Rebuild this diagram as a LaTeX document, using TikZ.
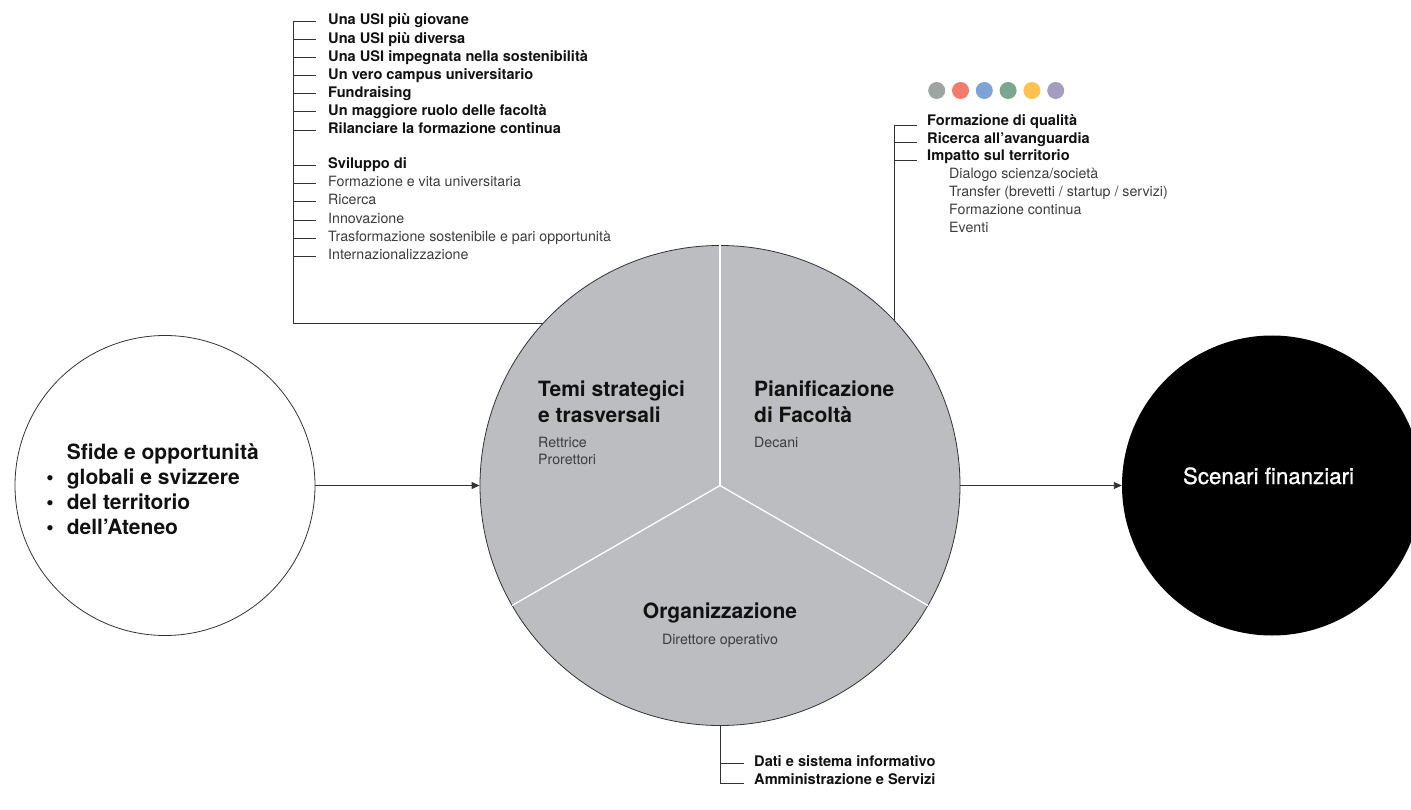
\documentclass[tikz,border=0pt]{standalone}
\usepackage{fontspec}
\setmainfont{TeX Gyre Heros}
\newfontfamily\mediumheros[FakeBold=0.9]{TeX Gyre Heros}
\usetikzlibrary{arrows.meta}
\definecolor{wheelgray}{HTML}{BCBDC0}
\definecolor{ink}{HTML}{111111}
\definecolor{soft}{HTML}{3C3C3C}
\definecolor{rulec}{HTML}{333333}
\definecolor{dotA}{HTML}{9DA5A2}
\definecolor{dotB}{HTML}{F37B6B}
\definecolor{dotC}{HTML}{7DA3D9}
\definecolor{dotD}{HTML}{7AA78E}
\definecolor{dotE}{HTML}{FFC24E}
\definecolor{dotF}{HTML}{A59CC2}
\begin{document}
\begin{tikzpicture}[x=1pt,y=-1pt,
  bigtext/.style={font=\fontsize{21}{25}\selectfont\bfseries, text=ink, inner sep=0pt, anchor=base west},
  itemtext/.style={font=\fontsize{14.6}{17}\selectfont\bfseries, text=ink, inner sep=0pt, anchor=base west},
  subtext/.style={font=\fontsize{14.2}{17}\selectfont, text=soft, inner sep=0pt, anchor=base west},
  link/.style={draw=rulec, line width=0.9pt},
  spoke/.style={draw=white, line width=1.3pt},
  arrowline/.style={link, -{Triangle[length=8pt,width=7pt]}},
  dotnode/.style={circle, minimum size=17pt, inner sep=0pt},
]
\useasboundingbox (0,0) rectangle (1411,810);
\clip (0,0) rectangle (1411,810);

% ---- main circles
\node[circle, draw=rulec, line width=0.8pt, minimum size=300pt, inner sep=0pt] (sfide) at (165,485.5) {};
\node[circle, draw=rulec, fill=wheelgray, line width=0.8pt, minimum size=480pt, inner sep=0pt] (wheel) at (720,485.5) {};
\node[circle, fill=black, minimum size=300pt, inner sep=0pt] (scen) at (1272,485.5) {};

% spokes
\draw[spoke] (wheel.center) -- (wheel.90);
\draw[spoke] (wheel.center) -- (wheel.210);
\draw[spoke] (wheel.center) -- (wheel.330);

% arrows
\draw[arrowline] (sfide.east) -- (wheel.west);
\draw[arrowline] (wheel.east) -- (scen.west);

% ---- left circle text
\node[bigtext] (sf0) at (66.7,459) {Sfide e opportunità};
\node[bigtext] (sf1) at (66.7,484) {globali e svizzere};
\node[bigtext] (sf2) at (66.7,509) {del territorio};
\node[bigtext] (sf3) at (66.7,534) {dell’Ateneo};
\node[bigtext, anchor=base] (b1) at (50,484) {•};
\node[bigtext, anchor=base] (b2) at (50,509) {•};
\node[bigtext, anchor=base] (b3) at (50,534) {•};

% ---- wheel texts
\node[bigtext] (temi1) at (538,396.7) {Temi strategici};
\node[bigtext] (temi2) at (538,422.3) {e trasversali};
\node[subtext] (temi3) at (538,447.3) {Rettrice};
\node[subtext] (temi4) at (538,464) {Prorettori};
\node[bigtext] (pian1) at (754,396.7) {Pianificazione};
\node[bigtext] (pian2) at (754,422.3) {di Facoltà};
\node[subtext] (pian3) at (754,447.3) {Decani};
\node[bigtext, anchor=base] (org1) at (720,618.3) {Organizzazione};
\node[subtext, anchor=base] (org2) at (720,644.3) {Direttore operativo};

% ---- scenari
\node[font=\fontsize{22.3}{26}\selectfont\mediumheros, text=white, inner sep=0pt, anchor=base] (scentext) at (1268.5,484) {Scenari finanziari};

% ---- top-left list
\coordinate (tlbus) at (293,21.7);
\coordinate (tlcorner) at (293,323);
\coordinate (tlend) at (543.4,323);
\draw[link] (tlbus) -- (tlcorner) -- (tlend);
\foreach \t [count=\i] in {Una USI più giovane,Una USI più diversa,Una USI impegnata nella sostenibilità,Un vero campus universitario,Fundraising,Un maggiore ruolo delle facoltà,Rilanciare la formazione continua}{
  \pgfmathsetmacro{\yb}{25+18.05*(\i-1)}
  \node[itemtext] (tla\i) at (328,\yb) {\t};
  \coordinate (tlak\i) at (316,\yb-3.3);
  \draw[link] (tlak\i) -- (tlak\i -| tlbus);
}
\node[itemtext] (tlb1) at (328,168.3) {Sviluppo di};
\coordinate (tlbk1) at (316,165);
\draw[link] (tlbk1) -- (tlbk1 -| tlbus);
\foreach \t [count=\i from 2] in {Formazione e vita universitaria,Ricerca,Innovazione,Trasformazione sostenibile e pari opportunità,Internazionalizzazione}{
  \pgfmathsetmacro{\yb}{168.3+18.33*(\i-1)}
  \node[subtext] (tlb\i) at (328,\yb) {\t};
  \coordinate (tlbk\i) at (316,\yb-3.3);
  \draw[link] (tlbk\i) -- (tlbk\i -| tlbus);
}

% ---- top-right list
\foreach \c [count=\i] in {dotA,dotB,dotC,dotD,dotE,dotF}{
  \node[dotnode, fill=\c] (dot\i) at ({936.7+23.8*(\i-1)},90.5) {};
}
\coordinate (trbus) at (894,125);
\coordinate (trend) at (894,320.2);
\draw[link] (trbus) -- (trend);
\foreach \t [count=\i] in {Formazione di qualità,Ricerca all’avanguardia,Impatto sul territorio}{
  \pgfmathsetmacro{\yb}{126+17.5*(\i-1)}
  \node[itemtext] (tra\i) at (927,\yb) {\t};
  \coordinate (trak\i) at (917,\yb-1);
  \draw[link] (trak\i) -- (trak\i -| trbus);
}
\foreach \t [count=\i] in {Dialogo scienza/società,Transfer (brevetti / startup / servizi),Formazione continua,Eventi}{
  \pgfmathsetmacro{\yb}{179+17.7*(\i-1)}
  \node[subtext] (trb\i) at (949,\yb) {\t};
}

% ---- bottom list
\coordinate (bbus) at (720,783.3);
\draw[link] (wheel.south) -- (bbus);
\node[itemtext] (bo1) at (754,766.5) {Dati e sistema informativo};
\node[itemtext] (bo2) at (754,784.3) {Amministrazione e Servizi};
\coordinate (bok1) at (744,763.3);
\coordinate (bok2) at (744,783.3);
\draw[link] (bok1) -- (bok1 -| bbus);
\draw[link] (bok2) -- (bbus);
\end{tikzpicture}
\end{document}
